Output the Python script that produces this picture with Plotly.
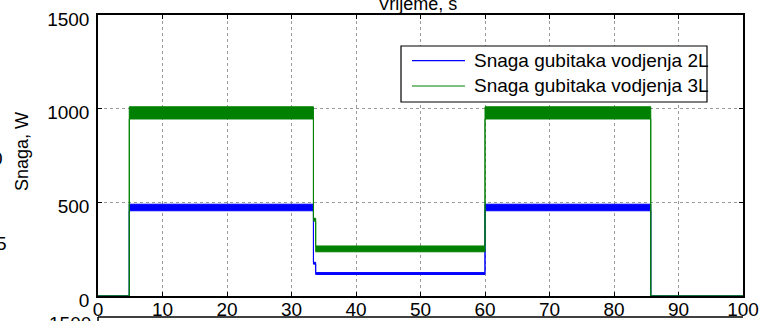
import plotly.graph_objects as go

# ---- data ----
t_edges = [0, 4.85, 33.4, 33.75, 60.0, 85.7, 100]          # segment start times, s
blue_low = [0, 455, 170, 115, 455, 0]                          # 2L lower envelope, W
blue_high = [0, 490, 180, 125, 490, 0]                         # 2L upper envelope, W
green_low = [0, 945, 400, 236, 945, 0]                         # 3L lower envelope, W
green_high = [0, 1010, 415, 267, 1010, 0]                      # 3L upper envelope, W
series_names = ["Snaga gubitaka vodjenja 2L", "Snaga gubitaka vodjenja 3L"]
x_ticks = list(range(0, 101, 10))
y_ticks = [0, 500, 1000, 1500]

BLUE = "#0000FF"
GREEN = "#008000"
FONT = "Liberation Sans, Arial, sans-serif"

fig = go.Figure()


def add_band(low, high, color):
    fig.add_trace(go.Scatter(x=t_edges, y=low + [low[-1]], mode="lines",
                             line=dict(color=color, width=1, shape="hv"),
                             showlegend=False, hoverinfo="skip"))
    fig.add_trace(go.Scatter(x=t_edges, y=high + [high[-1]], mode="lines",
                             line=dict(color=color, width=1, shape="hv"),
                             fill="tonexty", fillcolor=color,
                             showlegend=False, hoverinfo="skip"))


add_band(blue_low, blue_high, BLUE)
add_band(green_low, green_high, GREEN)

# plot area in pixels: x 98..743, y 15..296
L, R, T, B = 98, 743, 15, 296
W, H = R - L, B - T


def px(x):
    return (x - L) / W


def py(y):
    return (B - y) / H


axis_common = dict(showline=True, linecolor="black", linewidth=1.5, mirror="ticks",
                   ticks="inside", ticklen=4, tickcolor="black", tickwidth=1,
                   showgrid=True, gridcolor="#9a9a9a", griddash="dot", gridwidth=1,
                   zeroline=False, layer="below traces", automargin=False,
                   tickfont=dict(family=FONT, size=19, color="black"))

fig.update_xaxes(range=[0, 100], tickvals=x_ticks, ticklabelstandoff=-5, **axis_common)
fig.update_yaxes(range=[0, 1500], tickvals=y_ticks, ticklabelstandoff=3,
                 ticklabelshift=4, **axis_common)

shapes = []
annotations = []

# legend (MATLAB style)
shapes.append(dict(type="rect", xref="paper", yref="paper",
                   x0=px(401), x1=px(707), y0=py(102), y1=py(46),
                   line=dict(color="black", width=1.2), fillcolor="white", layer="above"))
for i, (name, col, yy) in enumerate(zip(series_names, [BLUE, GREEN], [60.7, 86])):
    shapes.append(dict(type="line", xref="paper", yref="paper",
                       x0=px(412), x1=px(465), y0=py(yy), y1=py(yy),
                       line=dict(color=col, width=1.2), layer="above"))
    annotations.append(dict(text=name, xref="paper", yref="paper", x=px(472), y=py(yy),
                            xanchor="left", yanchor="middle", showarrow=False,
                            font=dict(family=FONT, size=19, color="black")))

# y-axis label
annotations.append(dict(text="Snaga, W", xref="paper", yref="paper", x=px(22), y=py(152),
                        textangle=-90, xanchor="center", yanchor="middle", showarrow=False,
                        font=dict(family=FONT, size=18, color="black")))
# clipped x label of the subplot above
annotations.append(dict(text="Vrijeme, s", xref="paper", yref="paper", x=px(417), y=py(4),
                        xanchor="center", yanchor="middle", showarrow=False,
                        font=dict(family=FONT, size=18, color="black")))
# clipped pieces of neighbouring axes
annotations.append(dict(text="1500", xref="paper", yref="paper", x=px(93), y=py(323),
                        xanchor="right", yanchor="middle", showarrow=False,
                        font=dict(family=FONT, size=19, color="black")))
annotations.append(dict(text="5", xref="paper", yref="paper", x=px(9), y=py(243),
                        xanchor="right", yanchor="middle", showarrow=False,
                        font=dict(family=FONT, size=19, color="black")))
annotations.append(dict(text="0", xref="paper", yref="paper", x=px(5), y=py(158),
                        xanchor="right", yanchor="middle", showarrow=False,
                        font=dict(family=FONT, size=19, color="black")))
shapes.append(dict(type="line", xref="paper", yref="paper",
                   x0=px(L), x1=px(R), y0=py(317), y1=py(317),
                   line=dict(color="black", width=1.5)))
shapes.append(dict(type="line", xref="paper", yref="paper",
                   x0=px(L), x1=px(L), y0=py(317), y1=py(340),
                   line=dict(color="black", width=1.5)))

fig.update_layout(width=762, height=321,
                  margin=dict(l=L, r=762 - R, t=T, b=321 - B, autoexpand=False),
                  paper_bgcolor="white", plot_bgcolor="white",
                  showlegend=False, shapes=shapes, annotations=annotations,
                  font=dict(family=FONT, color="black"))

fig.write_html("out.html", config={"displayModeBar": False},
               post_script="document.body.style.margin='0';document.body.style.overflow='hidden';")
